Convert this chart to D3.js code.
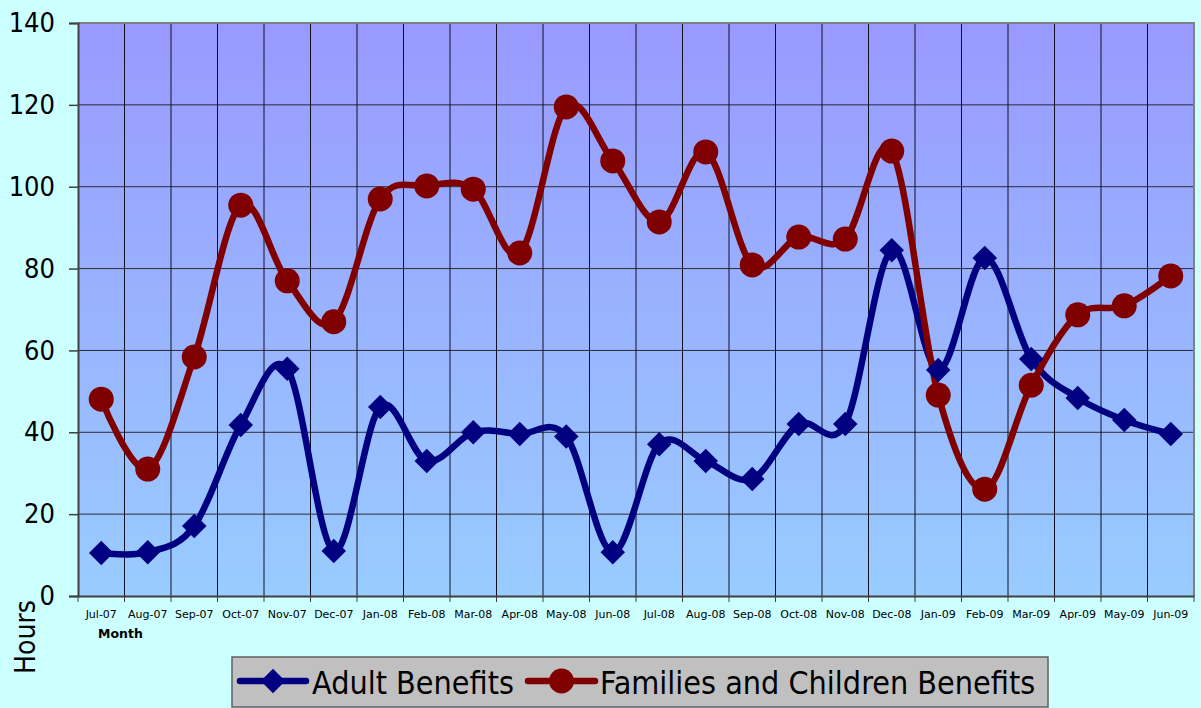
<!DOCTYPE html>
<html>
<head>
<meta charset="utf-8">
<script src="https://cdn.jsdelivr.net/npm/d3@7"></script>
<style>
  body { margin: 0; background: #CCFFFF; }
  svg { display: block; font-family: "DejaVu Sans", Verdana, sans-serif; }
  .cond { font-family: "DejaVu Sans Condensed", "DejaVu Sans", sans-serif; font-stretch: condensed; }
</style>
</head>
<body>
<div id="chart"></div>
<script>
(function chart() {

  var months = ["Jul-07", "Aug-07", "Sep-07", "Oct-07", "Nov-07", "Dec-07",
    "Jan-08", "Feb-08", "Mar-08", "Apr-08", "May-08", "Jun-08",
    "Jul-08", "Aug-08", "Sep-08", "Oct-08", "Nov-08", "Dec-08",
    "Jan-09", "Feb-09", "Mar-09", "Apr-09", "May-09", "Jun-09"];

  var adult = [10.5, 10.7, 17.1, 41.8, 55.5, 11, 46.2, 33, 40, 39.6, 39, 10.7,
    37.1, 33, 28.6, 42, 42, 84.5, 55.2, 82.6, 57.9, 48.4, 43, 39.6];

  var families = [48.1, 31, 58.4, 95.5, 77, 67, 97, 100.2, 99.4, 83.8, 119.5, 106.3,
    91.4, 108.5, 80.9, 87.7, 87.2, 108.7, 49.1, 26.1, 51.5, 68.7, 70.9, 78.2];

  var yTicks = [0, 20, 40, 60, 80, 100, 120, 140];

  var seriesNames = ["Adult Benefits", "Families and Children Benefits"];

  var W = 1201, H = 708;
  var left = 78, right = 1194, top = 23, bottom = 596;

  var svg = d3.select("#chart").append("svg")
    .attr("width", W)
    .attr("height", H);

  var defs = svg.append("defs");
  var grad = defs.append("linearGradient")
    .attr("id", "plotbg")
    .attr("x1", 0).attr("y1", 0).attr("x2", 0).attr("y2", 1);
  grad.append("stop").attr("offset", "0%").attr("stop-color", "#9999FF");
  grad.append("stop").attr("offset", "100%").attr("stop-color", "#99CCFF");

  var x = d3.scaleBand().domain(months).range([left, right]).padding(0);
  var y = d3.scaleLinear().domain([0, 140]).range([bottom, top]);
  var cx = function(i) { return x(months[i]) + x.bandwidth() / 2; };

  // plot area
  svg.append("rect")
    .attr("x", left).attr("y", top)
    .attr("width", right - left).attr("height", bottom - top)
    .attr("fill", "url(#plotbg)");

  // horizontal grid
  svg.append("g")
    .selectAll("line")
    .data(yTicks.slice(1, -1))
    .enter().append("line")
    .attr("x1", left).attr("x2", right)
    .attr("y1", function(d) { return y(d); })
    .attr("y2", function(d) { return y(d); })
    .attr("stroke", "#2a2a3a").attr("stroke-width", 1);

  // vertical grid at category boundaries
  svg.append("g")
    .selectAll("line")
    .data(months.slice(1))
    .enter().append("line")
    .attr("x1", function(d) { return x(d); })
    .attr("x2", function(d) { return x(d); })
    .attr("y1", top).attr("y2", bottom)
    .attr("stroke", "#111122").attr("stroke-width", 1);

  // border top / right
  svg.append("path")
    .attr("d", "M" + left + "," + top + "H" + right + "V" + bottom)
    .attr("fill", "none")
    .attr("stroke", "#808080").attr("stroke-width", 2);

  // y axis
  var yAxis = d3.axisLeft(y).tickValues(yTicks).tickSize(9).tickPadding(14);
  var gy = svg.append("g")
    .attr("transform", "translate(" + left + ",0)")
    .call(yAxis);
  gy.select(".domain").attr("stroke", "#404040").attr("stroke-width", 2);
  gy.selectAll(".tick line").attr("stroke", "#404040").attr("stroke-width", 1.5);
  gy.selectAll(".tick text")
    .attr("class", "cond")
    .attr("font-size", 27)
    .attr("fill", "#000");

  // x axis
  var xAxis = d3.axisBottom(x).tickSize(0).tickPadding(14);
  var gx = svg.append("g")
    .attr("transform", "translate(0," + bottom + ")")
    .call(xAxis);
  gx.select(".domain").attr("stroke", "#404040").attr("stroke-width", 2);
  gx.selectAll(".tick text")
    .attr("font-size", 11)
    .attr("font-family", "DejaVu Sans")
    .attr("fill", "#000");
  gx.selectAll(".bound")
    .data(months.concat(["end"]))
    .enter().append("line")
    .attr("class", "bound")
    .attr("x1", function(d, i) { return left + i * x.bandwidth(); })
    .attr("x2", function(d, i) { return left + i * x.bandwidth(); })
    .attr("y1", 0).attr("y2", 6)
    .attr("stroke", "#404040").attr("stroke-width", 1);

  // axis titles
  svg.append("text")
    .attr("x", 120.5).attr("y", 638)
    .attr("text-anchor", "middle")
    .attr("font-size", 12.5).attr("font-weight", "bold")
    .text("Month");

  svg.append("text")
    .attr("class", "cond")
    .attr("transform", "translate(35,637) rotate(-90)")
    .attr("text-anchor", "middle")
    .attr("font-size", 28)
    .text("Hours");

  // lines
  var line = d3.line()
    .x(function(d, i) { return cx(i); })
    .y(function(d) { return y(d); })
    .curve(d3.curveCardinal.tension(0));

  var colors = ["#000080", "#800000"];
  var sets = [adult, families];

  sets.forEach(function(s, k) {
    svg.append("path")
      .datum(s)
      .attr("d", line)
      .attr("fill", "none")
      .attr("stroke", colors[k])
      .attr("stroke-width", 6.5)
      .attr("stroke-linejoin", "round")
      .attr("stroke-linecap", "round");
  });

  var diamond = d3.symbol().type(d3.symbolSquare).size(300);

  svg.append("g").selectAll("path")
    .data(adult)
    .enter().append("path")
    .attr("d", diamond)
    .attr("transform", function(d, i) { return "translate(" + cx(i) + "," + y(d) + ") rotate(45)"; })
    .attr("fill", colors[0]);

  svg.append("g").selectAll("circle")
    .data(families)
    .enter().append("circle")
    .attr("cx", function(d, i) { return cx(i); })
    .attr("cy", function(d) { return y(d); })
    .attr("r", 12.5)
    .attr("fill", colors[1]);

  // legend
  var lg = svg.append("g");
  lg.append("rect")
    .attr("x", 232).attr("y", 657)
    .attr("width", 816).attr("height", 50)
    .attr("fill", "#C0C0C0")
    .attr("stroke", "#606060").attr("stroke-width", 1.5);

  var items = [{ x0: 240, x1: 306, tx: 312 }, { x0: 528, x1: 595, tx: 600 }];
  items.forEach(function(it, k) {
    var my = 681;
    lg.append("line")
      .attr("x1", it.x0).attr("x2", it.x1)
      .attr("y1", my).attr("y2", my)
      .attr("stroke", colors[k]).attr("stroke-width", 6.5)
      .attr("stroke-linecap", "round");
    if (k === 0) {
      lg.append("path")
        .attr("d", diamond)
        .attr("transform", "translate(" + ((it.x0 + it.x1) / 2) + "," + my + ") rotate(45)")
        .attr("fill", colors[0]);
    } else {
      lg.append("circle")
        .attr("cx", (it.x0 + it.x1) / 2).attr("cy", my)
        .attr("r", 12.5).attr("fill", colors[1]);
    }
    lg.append("text")
      .attr("class", "cond")
      .attr("x", it.tx).attr("y", 694)
      .attr("font-size", 32)
      .attr("fill", "#000")
      .text(seriesNames[k]);
  });

})();
</script>
</body>
</html>
